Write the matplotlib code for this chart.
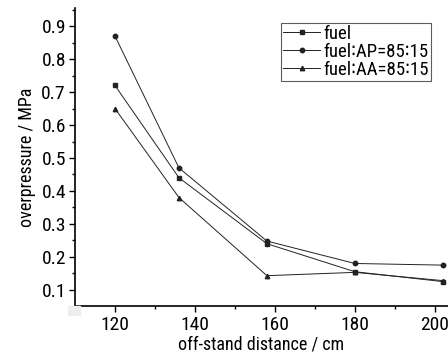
import matplotlib
matplotlib.use("Agg")
import matplotlib.pyplot as plt
from matplotlib.ticker import MultipleLocator
from matplotlib.patches import Rectangle

plt.rcParams['font.family'] = ['Roboto Condensed', 'DejaVu Sans']

distance = [120, 136, 158, 180, 202]
fuel = [0.72, 0.44, 0.240, 0.155, 0.125]
fuel_ap = [0.87, 0.47, 0.248, 0.180, 0.175]
fuel_aa = [0.65, 0.38, 0.143, 0.153, 0.128]
labels = ['fuel', 'fuel\u2236AP=85\u223615', 'fuel\u2236AA=85\u223615']

fig = plt.figure(figsize=(4.48, 3.53), dpi=100)
ax = fig.add_axes([75/448, 47/353, 373/448, 298/353])

ax.plot(distance, fuel, '-s', color='#222222', lw=0.7, ms=3.2, label=labels[0])
ax.plot(distance, fuel_ap, '-o', color='#222222', lw=0.7, ms=3.2, label=labels[1])
ax.plot(distance, fuel_aa, '-^', color='#222222', lw=0.7, ms=3.2, label=labels[2])

ax.set_xlim(110, 203.3)
ax.set_ylim(0.051, 0.955)
ax.xaxis.set_major_locator(MultipleLocator(20))
ax.xaxis.set_minor_locator(MultipleLocator(10))
ax.yaxis.set_major_locator(MultipleLocator(0.1))
ax.yaxis.set_minor_locator(MultipleLocator(0.05))
ax.tick_params(axis='both', which='both', direction='out', labelsize=14, width=1)
ax.tick_params(axis='both', which='major', length=4.5)
ax.tick_params(axis='both', which='minor', length=2)
ax.tick_params(axis='x', pad=3)
ax.tick_params(axis='y', pad=2)
for s in ['top', 'right']:
    ax.spines[s].set_visible(False)
for s in ['left', 'bottom']:
    ax.spines[s].set_linewidth(1.2)

ax.set_xlabel('off-stand distance / cm', fontsize=13, labelpad=1)
ax.set_ylabel('overpressure / MPa', fontsize=13, labelpad=4)

leg = ax.legend(loc='upper left', bbox_to_anchor=(206/373, 1-15/298), fontsize=13.5,
                frameon=True, fancybox=False, edgecolor='#333333',
                handlelength=2.0, handletextpad=0.15, borderpad=0.1,
                labelspacing=0.0, borderaxespad=0)
leg.get_frame().set_linewidth(0.8)

fig.patches.append(Rectangle((68/448, 38/353), 12/448, 9/353, transform=fig.transFigure,
                             color='#eeeeee', zorder=0))

fig.savefig('out.png', dpi=100)
